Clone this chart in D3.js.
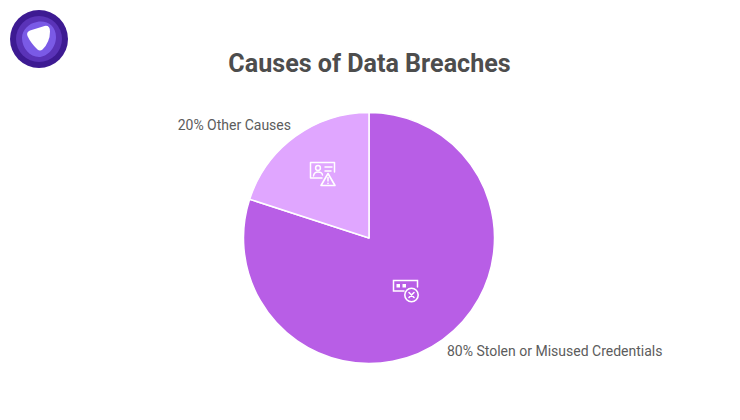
<!DOCTYPE html>
<html>
<head>
<meta charset="utf-8">
<title>Causes of Data Breaches</title>
<script src="https://cdn.jsdelivr.net/npm/d3@7"></script>
<style>
  html, body { margin: 0; padding: 0; background: #fff; }
  svg { display: block; }
  text { font-family: Roboto, sans-serif; }
</style>
</head>
<body>
<svg id="chart" width="740" height="420"></svg>
<script>
// values
var categories = ['Stolen or Misused Credentials', 'Other Causes'];
var shares = [80, 20];
var colors = ['#b85ee6', '#e0a6ff'];

var width = 740, height = 420;
var cx = 369, cy = 238, radius = 125.5;

var svg = d3.select('#chart')
  .attr('viewBox', '0 0 ' + width + ' ' + height);

// white background
svg.append('rect').attr('width', width).attr('height', height).attr('fill', '#fff');

// logo
var logo = svg.append('g').attr('transform', 'translate(39,39)');
logo.append('circle').attr('r', 29).attr('fill', '#3d1a92');
logo.append('circle').attr('r', 23).attr('fill', '#5a33b8');
logo.append('path')
  .attr('d', 'M-2,-17 C8,-19 17,-13 17,-2 C17,9 8,18 0,18 C-9,18 -17,9 -17,-1 C-17,-9 -10,-16 -2,-17 Z')
  .attr('fill', '#7a5ae6');
logo.append('path')
  .attr('d', 'M-9,-8.5 L5.5,-13 Q11,-14 11,-7.5 Q11,3 3.5,10.5 Q1,12.5 -1.5,10.5 Q-8,4.5 -11.5,-3 Q-13,-7 -9,-8.5 Z')
  .attr('fill', '#fff');

// title
svg.append('text')
  .attr('x', 369.5)
  .attr('y', 71.5)
  .attr('text-anchor', 'middle')
  .attr('font-size', 25.1)
  .attr('font-weight', 700)
  .attr('fill', '#4d4d4d')
  .text('Causes of Data Breaches');

// pie, first slice clockwise from 12 o'clock
var pie = d3.pie().sort(null).value(function(d) { return d; });
var arc = d3.arc().innerRadius(0).outerRadius(radius);
var color = d3.scaleOrdinal().domain(categories).range(colors);

var chart = svg.append('g').attr('transform', 'translate(' + cx + ',' + cy + ')');

chart.selectAll('path')
  .data(pie(shares))
  .enter()
  .append('path')
  .attr('d', arc)
  .attr('fill', function(d, i) { return color(categories[i]); })
  .attr('stroke', '#fff')
  .attr('stroke-width', 1.5)
  .attr('stroke-linejoin', 'round');

// outer labels
var labelPos = [
  { x: 447, y: 356, anchor: 'start' },
  { x: 291, y: 130, anchor: 'end' }
];
svg.selectAll('text.slice')
  .data(categories)
  .enter()
  .append('text')
  .attr('class', 'slice')
  .attr('x', function(d, i) { return labelPos[i].x; })
  .attr('y', function(d, i) { return labelPos[i].y; })
  .attr('text-anchor', function(d, i) { return labelPos[i].anchor; })
  .attr('font-size', 14)
  .attr('fill', '#5c5c5c')
  .text(function(d, i) { return shares[i] + '% ' + d; });

// id card icon with warning sign
var icon1 = svg.append('g')
  .attr('fill', 'none')
  .attr('stroke', '#fff')
  .attr('stroke-width', 1.5)
  .attr('stroke-linejoin', 'round')
  .attr('stroke-linecap', 'round');
icon1.append('path').attr('d', 'M322,178 H310.5 V162.5 H334.5 V172');
icon1.append('circle').attr('cx', 318).attr('cy', 168).attr('r', 2.4);
icon1.append('path').attr('d', 'M313.5,176 Q314,172 318,172 Q322,172 322.5,175');
icon1.append('path').attr('d', 'M325,167 H332 M325,171 H331');
icon1.append('path').attr('d', 'M328,173.5 L335,185.5 H321 Z').attr('stroke-width', 1.6);
icon1.append('path').attr('d', 'M328,177.5 V181 M328,183.2 V183.4');

// password bar icon with cross
var icon2 = svg.append('g')
  .attr('fill', 'none')
  .attr('stroke', '#fff')
  .attr('stroke-width', 1.5)
  .attr('stroke-linecap', 'round');
icon2.append('path').attr('d', 'M404,291 H393.5 V280.5 H417.5 V287');
icon2.append('rect').attr('x', 396.5).attr('y', 284).attr('width', 3.5).attr('height', 3.5).attr('fill', '#fff').attr('stroke', 'none');
icon2.append('rect').attr('x', 402.5).attr('y', 284).attr('width', 3.5).attr('height', 3.5).attr('fill', '#fff').attr('stroke', 'none');
icon2.append('circle').attr('cx', 411.5).attr('cy', 295).attr('r', 6.7).attr('stroke-width', 1.6);
icon2.append('path').attr('d', 'M409,292.5 L414,297.5 M414,292.5 L409,297.5').attr('stroke-width', 1.6);
</script>
</body>
</html>
